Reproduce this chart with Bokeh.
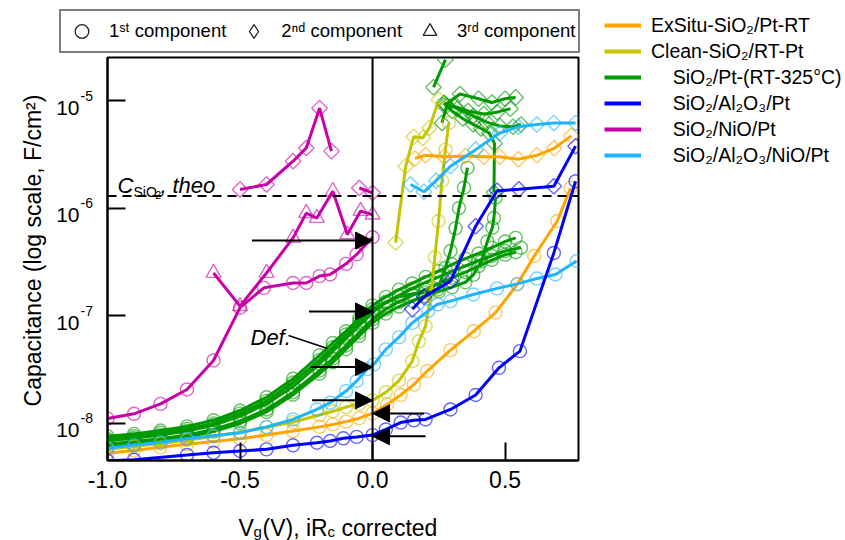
import numpy as np
from bokeh.plotting import figure
from bokeh.layouts import row, column
from bokeh.models import Span, Label, Arrow, NormalHead, Legend, LegendItem, FixedTicker, Range1d, CustomJSTickFormatter
from bokeh.core.properties import value
from bokeh.embed import file_html
from bokeh.resources import INLINE

FONT = "Liberation Sans"
ORANGE = "#FFA500"
YELLOW = "#C4C400"
GREEN = "#009A00"
BLUE = "#0000FF"
MAGENTA = "#C800A8"
LBLUE = "#1EB4FF"

# ---------------- data ----------------
# SiO2/NiO/Pt (magenta)
mag_c_x = [-1.0, -0.9, -0.8, -0.7, -0.6, -0.5, -0.41, -0.3, -0.25, -0.2, -0.16, -0.1, -0.06, 0.0]
mag_c_y = [1.11e-8, 1.23e-8, 1.52e-8, 2.07e-8, 3.85e-8, 1.19e-7, 1.82e-7, 2.02e-7, 2.02e-7, 2.34e-7, 2.42e-7, 3.04e-7, 3.72e-7, 5.37e-7]
mag_t_x = [-0.6, -0.5, -0.4, -0.3, -0.25, -0.21, -0.15, -0.095, -0.045, 0.0]
mag_t_y = [2.5e-7, 1.23e-7, 2.5e-7, 5.3e-7, 9.0e-7, 8.1e-7, 1.44e-6, 5.7e-7, 9.4e-7, 8.7e-7]
mag_d1_x = [-0.5, -0.4, -0.3, -0.25, -0.2, -0.155]
mag_d1_y = [1.49e-6, 1.66e-6, 2.73e-6, 3.63e-6, 8.5e-6, 3.39e-6]
mag_d2_x = [-0.05, 0.0]
mag_d2_y = [1.54e-6, 1.39e-6]

# SiO2/Pt-(RT-325C) (green), several runs
grid_x = [-1.0, -0.9, -0.8, -0.7, -0.6, -0.5, -0.4, -0.3, -0.2, -0.15, -0.1, -0.05, 0.0, 0.05, 0.1, 0.15, 0.2]
g1_x = grid_x + [0.25, 0.3, 0.35, 0.4, 0.45, 0.5, 0.54]
g1_y = [7.6e-9, 8.0e-9, 8.6e-9, 9.4e-9, 1.07e-8, 1.32e-8, 1.75e-8, 2.6e-8, 4.3e-8, 5.6e-8, 7.2e-8, 9.5e-8, 1.25e-7, 1.5e-7, 1.75e-7, 2.0e-7, 2.3e-7,
        2.6e-7, 3.0e-7, 3.4e-7, 3.8e-7, 4.3e-7, 4.9e-7, 5.3e-7]
g2_x = grid_x + [0.25, 0.3, 0.35, 0.4, 0.45, 0.5, 0.56]
g2_y = [6.9e-9, 7.3e-9, 7.8e-9, 8.5e-9, 9.6e-9, 1.17e-8, 1.52e-8, 2.2e-8, 3.6e-8, 4.7e-8, 6.2e-8, 8.2e-8, 1.08e-7, 1.32e-7, 1.55e-7, 1.8e-7, 2.05e-7,
        2.3e-7, 2.6e-7, 2.9e-7, 3.25e-7, 3.6e-7, 4.0e-7, 4.3e-7]
g3_x = grid_x + [0.25, 0.3, 0.35, 0.4, 0.45, 0.5, 0.54]
g3_y = [6.4e-9, 6.8e-9, 7.2e-9, 7.8e-9, 8.8e-9, 1.05e-8, 1.35e-8, 1.95e-8, 3.1e-8, 4.0e-8, 5.3e-8, 7.0e-8, 9.3e-8, 1.15e-7, 1.35e-7, 1.55e-7, 1.75e-7,
        2.0e-7, 2.25e-7, 2.55e-7, 2.9e-7, 3.3e-7, 3.7e-7, 3.9e-7]
g4_x = grid_x + [0.245, 0.275, 0.294, 0.313, 0.326, 0.345, 0.358]
g4_y = [7.2e-9, 7.6e-9, 8.2e-9, 8.9e-9, 1.0e-8, 1.24e-8, 1.62e-8, 2.4e-8, 3.9e-8, 5.1e-8, 6.7e-8, 8.8e-8, 1.15e-7, 1.35e-7, 1.5e-7, 1.6e-7, 1.65e-7,
        1.75e-7, 2.8e-7, 4.0e-7, 6.5e-7, 1.0e-6, 1.55e-6, 2.37e-6]
g5_x = grid_x + [0.25, 0.3, 0.35, 0.38, 0.41, 0.433, 0.452, 0.458, 0.464]
g5_y = [6.1e-9, 6.5e-9, 6.9e-9, 7.5e-9, 8.4e-9, 1.0e-8, 1.28e-8, 1.85e-8, 2.9e-8, 3.7e-8, 4.9e-8, 6.5e-8, 8.6e-8, 1.05e-7, 1.22e-7, 1.38e-7, 1.52e-7,
        1.68e-7, 1.85e-7, 2.05e-7, 2.4e-7, 3.2e-7, 4.9e-7, 6.6e-7, 8.1e-7, 1.25e-6]
gd0_x = [0.23, 0.275]
gd0_y = [1.33e-5, 2.4e-5]
gd1_x = [0.27, 0.33, 0.40, 0.45, 0.50, 0.54]
gd1_y = [9.0e-6, 1.15e-5, 1.04e-5, 9.6e-6, 1.04e-5, 1.07e-5]
gd2_x = [0.27, 0.32, 0.38, 0.43, 0.48, 0.53, 0.56]
gd2_y = [9.5e-6, 8.4e-6, 7.2e-6, 6.3e-6, 5.8e-6, 5.7e-6, 6.0e-6]
gd3_x = [0.458, 0.46, 0.44, 0.41, 0.38, 0.34, 0.30, 0.27]
gd3_y = [1.4e-6, 4.0e-6, 5.0e-6, 5.5e-6, 6.0e-6, 6.8e-6, 8.0e-6, 9.5e-6]
gd4_x = [0.262, 0.28, 0.31, 0.36, 0.42, 0.47, 0.52]
gd4_y = [6.2e-6, 9.0e-6, 8.8e-6, 8.0e-6, 7.5e-6, 7.8e-6, 8.4e-6]

# Clean-SiO2/RT-Pt (yellow-green)
yel_c_x = [-1.0, -0.9, -0.8, -0.7, -0.6, -0.5, -0.4, -0.3, -0.2, -0.15, -0.1, -0.05, 0.0, 0.05, 0.1, 0.15, 0.175, 0.2, 0.22, 0.235, 0.249, 0.262, 0.275, 0.288]
yel_c_y = [5.8e-9, 6.1e-9, 6.5e-9, 7.0e-9, 7.6e-9, 8.3e-9, 9.2e-9, 1.03e-8, 1.2e-8, 1.3e-8, 1.42e-8, 1.52e-8, 1.64e-8, 1.95e-8, 2.5e-8, 3.8e-8, 5.8e-8, 8.0e-8, 1.6e-7, 3.5e-7, 7.6e-7, 1.8e-6, 3.5e-6, 6.2e-6]
yel_d_x = [0.087, 0.125, 0.155, 0.19, 0.215, 0.25]
yel_d_y = [4.8e-7, 2.45e-6, 4.6e-6, 4.5e-6, 5.6e-6, 1.02e-5]

# ExSitu-SiO2/Pt-RT (orange)
ora_c_x = [-1.0, -0.9, -0.8, -0.7, -0.6, -0.5, -0.4, -0.3, -0.2, -0.15, -0.1, -0.05, 0.0, 0.055, 0.106, 0.156, 0.206, 0.294, 0.382, 0.464, 0.546, 0.61, 0.697, 0.747]
ora_c_y = [5.3e-9, 5.6e-9, 6.0e-9, 6.4e-9, 6.8e-9, 7.2e-9, 7.8e-9, 8.5e-9, 9.3e-9, 9.8e-9, 1.04e-8, 1.12e-8, 1.24e-8, 1.5e-8, 1.84e-8, 2.3e-8, 3.07e-8, 4.8e-8, 7.2e-8, 1.07e-7, 1.96e-7, 3.6e-7, 7.6e-7, 1.54e-6]
ora_d_x = [0.16, 0.2, 0.27, 0.35, 0.42, 0.48, 0.55, 0.62, 0.685, 0.75]
ora_d_y = [2.9e-6, 3.1e-6, 3.0e-6, 3.05e-6, 3.0e-6, 3.0e-6, 2.85e-6, 3.1e-6, 3.6e-6, 4.7e-6]

# SiO2/Al2O3/NiO/Pt (light blue)
lb_c_x = [-1.0, -0.9, -0.8, -0.7, -0.6, -0.5, -0.4, -0.3, -0.21, -0.16, -0.1, -0.06, -0.02, 0.005, 0.05, 0.1, 0.15, 0.21, 0.245, 0.294, 0.38, 0.47, 0.546, 0.62, 0.69, 0.77]
lb_c_y = [5.9e-9, 6.3e-9, 6.7e-9, 7.2e-9, 7.7e-9, 8.2e-9, 9.3e-9, 1.09e-8, 1.35e-8, 1.56e-8, 2.0e-8, 2.48e-8, 3.2e-8, 3.54e-8, 4.88e-8, 6.34e-8, 8.61e-8, 1.11e-7, 1.28e-7, 1.37e-7, 1.58e-7, 1.8e-7, 1.98e-7, 2.22e-7, 2.42e-7, 3.23e-7]
lb_d_x = [0.143, 0.194, 0.24, 0.294, 0.389, 0.48, 0.55, 0.62, 0.684, 0.766]
lb_d_y = [1.66e-6, 1.42e-6, 1.8e-6, 2.45e-6, 3.5e-6, 5.0e-6, 5.7e-6, 6.0e-6, 6.2e-6, 6.2e-6]

# SiO2/Al2O3/Pt (blue)
bl_c_x = [-1.0, -0.9, -0.7, -0.6, -0.5, -0.4, -0.3, -0.21, -0.16, -0.11, -0.06, 0.0, 0.05, 0.106, 0.156, 0.2, 0.294, 0.389, 0.477, 0.556, 0.684, 0.766]
bl_c_y = [4.5e-9, 4.6e-9, 5.1e-9, 5.35e-9, 5.55e-9, 5.75e-9, 6.27e-9, 6.62e-9, 6.87e-9, 7.28e-9, 7.5e-9, 7.8e-9, 8.8e-9, 1.02e-8, 1.07e-8, 1.09e-8, 1.35e-8, 1.84e-8, 3.29e-8, 4.7e-8, 3.84e-7, 1.78e-6]
bl_d_x = [0.15, 0.194, 0.294, 0.389, 0.47, 0.552, 0.684, 0.766]
bl_d_y = [1.15e-7, 1.5e-7, 2.1e-7, 6.8e-7, 1.45e-6, 1.5e-6, 1.6e-6, 3.77e-6]

c_theo = 1.3e-6
x_ticks = [-1.0, -0.5, 0.0, 0.5]
x_tick_labels = ["-1.0", "-0.5", "0.0", "0.5"]
y_ticks = [1e-8, 1e-7, 1e-6, 1e-5]
y_exps = ["-8", "-7", "-6", "-5"]
legend_labels = ["ExSitu-SiO\u2082/Pt-RT", "Clean-SiO\u2082/RT-Pt",
                 "\u00a0\u00a0\u00a0\u00a0SiO\u2082/Pt-(RT-325\u00b0C)", "\u00a0\u00a0\u00a0\u00a0SiO\u2082/Al\u2082O\u2083/Pt",
                 "\u00a0\u00a0\u00a0\u00a0SiO\u2082/NiO/Pt", "\u00a0\u00a0\u00a0\u00a0SiO\u2082/Al\u2082O\u2083/NiO/Pt"]
legend_colors = [ORANGE, YELLOW, GREEN, BLUE, MAGENTA, LBLUE]
marker_labels = ["1\u02e2\u1d57 component", "2\u207f\u1d48 component", "3\u02b3\u1d48 component"]

# arrows: (x_start, x_end, y)
arrows = [(-0.455, 0.0, 5.0e-7), (-0.24, 0.0, 1.1e-7), (-0.234, 0.0, 3.34e-8),
          (-0.228, 0.0, 1.64e-8), (0.194, 0.0, 1.24e-8), (0.2, 0.0, 7.6e-9)]

# ---------------- geometry ----------------
X0, X1 = -1.0, 0.777
LY0, LY1 = -8.344, -4.60
FW, FH = 471, 403            # frame size in px
PAD = 2
LEFT_W, TOP_H = 105, 55
PPX = FW / (X1 - X0)         # px per volt
PPY = FH / (LY1 - LY0)       # px per decade
FRAME_LEFT, FRAME_TOP = LEFT_W + PAD, TOP_H + PAD


def xd(px):   # canvas px -> data x
    return X0 + (px - FRAME_LEFT) / PPX


def yd(py):   # canvas px -> data y
    return 10 ** (LY1 - (py - FRAME_TOP) / PPY)


yrange = Range1d(10 ** LY0, 10 ** LY1)
xrange = Range1d(X0, X1)

common = dict(output_backend="svg", toolbar_location=None)

# ---------------- main plot ----------------
p = figure(width=FW + 2 * PAD, height=FH + 2 * PAD, x_range=xrange, y_range=yrange,
           y_axis_type="log", min_border_left=PAD, min_border_right=PAD,
           min_border_top=PAD, min_border_bottom=PAD, **common)
p.grid.visible = False
p.outline_line_color = "black"
p.outline_line_width = 2
p.xaxis.ticker = FixedTicker(ticks=x_ticks)
p.yaxis.ticker = FixedTicker(ticks=y_ticks)
for ax in (p.xaxis, p.yaxis):
    ax.axis_line_color = "black"
    ax.axis_line_width = 2
    ax.major_tick_in = 18
    ax.major_tick_out = 0
    ax.major_tick_line_width = 2
    ax.major_tick_line_color = "black"
    ax.minor_tick_line_color = None
    ax.formatter = CustomJSTickFormatter(code="return ''")
    ax.major_label_text_font_size = "0px"
    ax.major_label_standoff = 0

p.add_layout(Span(location=0.0, dimension="height", line_color="black", line_width=2))
p.add_layout(Span(location=c_theo, dimension="width", line_color="black", line_width=2, line_dash="9 6"))


def draw(xs, ys, color, marker):
    p.line(xs, ys, line_color=color, line_width=3)
    kw = dict(fill_color=None, line_color=color, line_alpha=0.6, line_width=1.4)
    if marker == "circle":
        p.scatter(xs, ys, marker="circle", size=13, **kw)
    elif marker == "diamond":
        p.scatter(xs, ys, marker="square", size=11, angle=np.pi / 4, **kw)
    else:
        p.scatter(xs, ys, marker="triangle", size=15, **kw)


for xs, ys, m in [(g1_x, g1_y, "circle"), (g2_x, g2_y, "circle"), (g3_x, g3_y, "circle"),
                  (g4_x, g4_y, "circle"), (g5_x, g5_y, "circle"),
                  (gd0_x, gd0_y, "diamond"), (gd1_x, gd1_y, "diamond"), (gd2_x, gd2_y, "diamond"),
                  (gd3_x, gd3_y, "diamond"), (gd4_x, gd4_y, "diamond")]:
    draw(xs, ys, GREEN, m)
draw(yel_c_x, yel_c_y, YELLOW, "circle")
draw(yel_d_x, yel_d_y, YELLOW, "diamond")
draw(ora_c_x, ora_c_y, ORANGE, "circle")
draw(ora_d_x, ora_d_y, ORANGE, "diamond")
draw(lb_c_x, lb_c_y, LBLUE, "circle")
draw(lb_d_x, lb_d_y, LBLUE, "diamond")
draw(bl_c_x, bl_c_y, BLUE, "circle")
draw(bl_d_x, bl_d_y, BLUE, "diamond")
draw(mag_c_x, mag_c_y, MAGENTA, "circle")
draw(mag_t_x, mag_t_y, MAGENTA, "triangle")
draw(mag_d1_x, mag_d1_y, MAGENTA, "diamond")
draw(mag_d2_x, mag_d2_y, MAGENTA, "diamond")

for xs0, xe0, yy in arrows:
    p.add_layout(Arrow(end=NormalHead(size=17, fill_color="black", line_color="black", line_width=1),
                       x_start=xs0, y_start=yy, x_end=xe0, y_end=yy,
                       line_color="black", line_width=2))

# Def. annotation with leader line
p.line([xd(288), xd(327)], [yd(335), yd(348)], line_color="black", line_width=1.5)
lab = dict(text_font=FONT, text_color="black", text_baseline="alphabetic", text_align="left")
p.add_layout(Label(x=xd(250), y=yd(337), text="Def.", text_font_style="italic", text_font_size="22px", **lab))
# C_SiO2, theo
p.add_layout(Label(x=xd(117), y=yd(185), text="C", text_font_style="italic", text_font_size="22px", **lab))
p.add_layout(Label(x=xd(133), y=yd(191), text="SiO", text_font_size="14px", **lab))
p.add_layout(Label(x=xd(155), y=yd(194), text="2", text_font_size="10px", **lab))
p.add_layout(Label(x=xd(160), y=yd(185), text=",", text_font_style="italic", text_font_size="22px", **lab))
p.add_layout(Label(x=xd(172), y=yd(185), text="theo", text_font_style="italic", text_font_size="22px", **lab))

# ---------------- left strip: y tick labels and y title ----------------
left = figure(width=LEFT_W, height=FH + 2 * PAD, x_range=Range1d(0, LEFT_W), y_range=yrange,
              y_axis_type="log", min_border_left=0, min_border_right=0, min_border_top=PAD,
              min_border_bottom=PAD, x_axis_location=None, y_axis_location=None, **common)
left.grid.visible = False
left.outline_line_color = None
tick_py = [FRAME_TOP + (LY1 - np.log10(t)) * PPY for t in y_ticks]
left.text(x=[79] * 4, y=[yd(py + 7) for py in tick_py], text=["10"] * 4, text_font=value(FONT),
          text_font_size="21px", text_align="right", text_baseline="alphabetic", text_color="black")
left.text(x=[80] * 4, y=[yd(py - 5) for py in tick_py], text=y_exps, text_font=value(FONT),
          text_font_size="14px", text_align="left", text_baseline="alphabetic", text_color="black")
left.text(x=[32], y=[yd(250)], text=["Capacitance (log scale, F/cm\u00b2)"], text_font=value(FONT),
          text_font_size="23px", text_align="center", text_baseline="middle", angle=np.pi / 2,
          text_color="black")

# ---------------- bottom strip: x tick labels and x title ----------------
BOT_H = 540 - (TOP_H + FH + 2 * PAD)
bottom = figure(width=LEFT_W + FW + 2 * PAD, height=BOT_H,
                x_range=Range1d(xd(0), xd(LEFT_W + FW + 2 * PAD)),
                y_range=Range1d(BOT_H, 0), min_border=0,
                x_axis_location=None, y_axis_location=None, **common)
bottom.grid.visible = False
bottom.outline_line_color = None
B0 = TOP_H + FH + 2 * PAD   # canvas y of the strip top
bottom.text(x=x_ticks, y=[470 - B0] * 4, text=x_tick_labels, text_font=value(FONT), text_font_size="23px",
            text_align="center", text_baseline="top", text_color="black")
title_parts = [("V", 238, 527, "23px"), ("g", 253, 531, "15px"), ("(V), iR", 262, 527, "23px"),
               ("c", 327, 531, "15px"), ("corrected", 341, 527, "23px")]
for t, px, py, fs in title_parts:
    bottom.text(x=[xd(px)], y=[py - B0], text=[t], text_font=value(FONT), text_font_size=fs,
                text_align="left", text_baseline="alphabetic", text_color="black")

# ---------------- top strip: marker legend ----------------
top = figure(width=LEFT_W + FW + 2 * PAD, height=TOP_H, x_range=Range1d(0, 1), y_range=Range1d(0, 1),
             min_border=0, x_axis_location=None, y_axis_location=None, **common)
top.grid.visible = False
top.outline_line_color = None
mk = dict(fill_color=None, line_color="#222222", line_width=1.3)
off = [-10.0]   # legend proxies sit outside the visible range
r_c = top.scatter(off, off, marker="circle", size=13, **mk)
r_d = top.scatter(off, off, marker="diamond", size=17, **mk)
r_t = top.scatter(off, off, marker="triangle", size=15, **mk)
top_leg = Legend(items=[LegendItem(label=marker_labels[0], renderers=[r_c]),
                        LegendItem(label=marker_labels[1], renderers=[r_d]),
                        LegendItem(label=marker_labels[2], renderers=[r_t])],
                 orientation="horizontal", location=(59, TOP_H - 53), padding=3, spacing=10,
                 glyph_width=35, glyph_height=34, label_standoff=10, margin=0,
                 label_text_font=FONT, label_text_font_size="18.5px", label_text_color="black",
                 border_line_color="black", border_line_width=2,
                 background_fill_color="white", background_fill_alpha=1.0)
top.add_layout(top_leg)

# ---------------- right strip: sample legend ----------------
RW = 845 - (LEFT_W + FW + 2 * PAD)
right = figure(width=RW, height=540, x_range=Range1d(0, 1), y_range=Range1d(0, 1), min_border=0,
               x_axis_location=None, y_axis_location=None, **common)
right.grid.visible = False
right.outline_line_color = None
leg_items = []
for labl, col in zip(legend_labels, legend_colors):
    r = right.line(off * 2, [-10.0, -11.0], line_color=col, line_width=4)
    leg_items.append(LegendItem(label=labl, renderers=[r]))
right_leg = Legend(items=leg_items, location=(604 - (LEFT_W + FW + 2 * PAD), 540 - 168), padding=0,
                   spacing=0, margin=0, glyph_width=37, glyph_height=26, label_height=26, label_standoff=10,
                   label_text_font=FONT, label_text_font_size="19.5px", label_text_color="black",
                   border_line_color=None, background_fill_alpha=0)
right.add_layout(right_leg)

layout = row(column(top, row(left, p), bottom), right)
open("out.html", "w").write(file_html(layout, INLINE))
